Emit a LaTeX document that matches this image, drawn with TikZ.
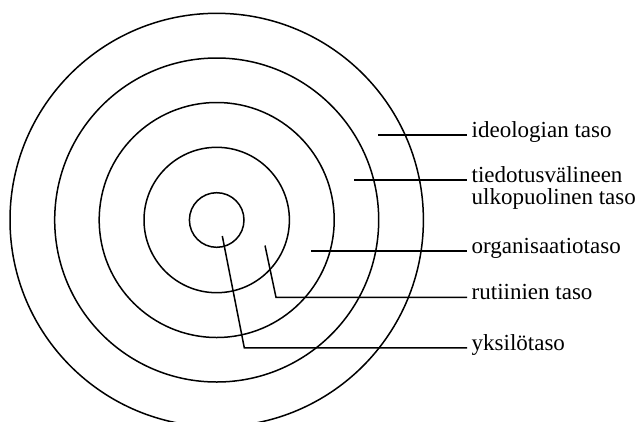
\documentclass[tikz,border=0pt]{standalone}
\usepackage{fontspec}
\setmainfont{Liberation Serif}
\usepackage{tikz}
\usetikzlibrary{positioning}

\tikzset{
  ring/.style={line width=1.5pt},
  pointer/.style={line width=1.5pt},
  levellabel/.style={anchor=mid west, inner xsep=4.5pt, inner ysep=0pt,
    font=\fontsize{23}{22}\selectfont}
}

\begin{document}
\begin{tikzpicture}[x=1pt, y=-1pt]
  \useasboundingbox (0,0) rectangle (640,421);
  \clip (0,0) rectangle (640,421);

  % Centre of the rings
  \coordinate (core) at (216.7,220);

  % Rings
  \draw[ring] (core) circle (27.3pt);
  \draw[ring] (core) circle (72.7pt);
  \draw[ring] (core) circle (117.5pt);
  \draw[ring] (core) circle (162pt);
  \draw[ring] (core) circle (206.7pt);

  % Labels
  \node[levellabel] (ideology) at (467,135) {ideologian taso};
  \node[levellabel] (extramedia) at (467,180) {\begin{tabular}[t]{@{}l@{}}tiedotusvälineen\\ulkopuolinen taso\end{tabular}};
  \node[levellabel] (organisation) at (467,251) {organisaatiotaso};
  \node[levellabel] (routine) at (467,297.3) {rutiinien taso};
  \node[levellabel] (individual) at (467,347.8) {yksilötaso};

  % Pointer ends inside the rings
  \coordinate (ideologyEnd) at (378.3,135);
  \coordinate (extramediaEnd) at (354,180);
  \coordinate (organisationEnd) at (311,251);
  \coordinate (routineEnd) at (265,245.5);
  \coordinate (routineBend) at (276,297.3);
  \coordinate (individualEnd) at (222.3,236);
  \coordinate (individualBend) at (244.3,347.8);

  % Pointers
  \draw[pointer] (ideologyEnd) -- (ideology.mid west);
  \draw[pointer] (extramediaEnd) -- (extramedia.mid west);
  \draw[pointer] (organisationEnd) -- (organisation.mid west);
  \draw[pointer] (routineEnd) -- (routineBend) -- (routine.mid west);
  \draw[pointer] (individualEnd) -- (individualBend) -- (individual.mid west);
\end{tikzpicture}
\end{document}
